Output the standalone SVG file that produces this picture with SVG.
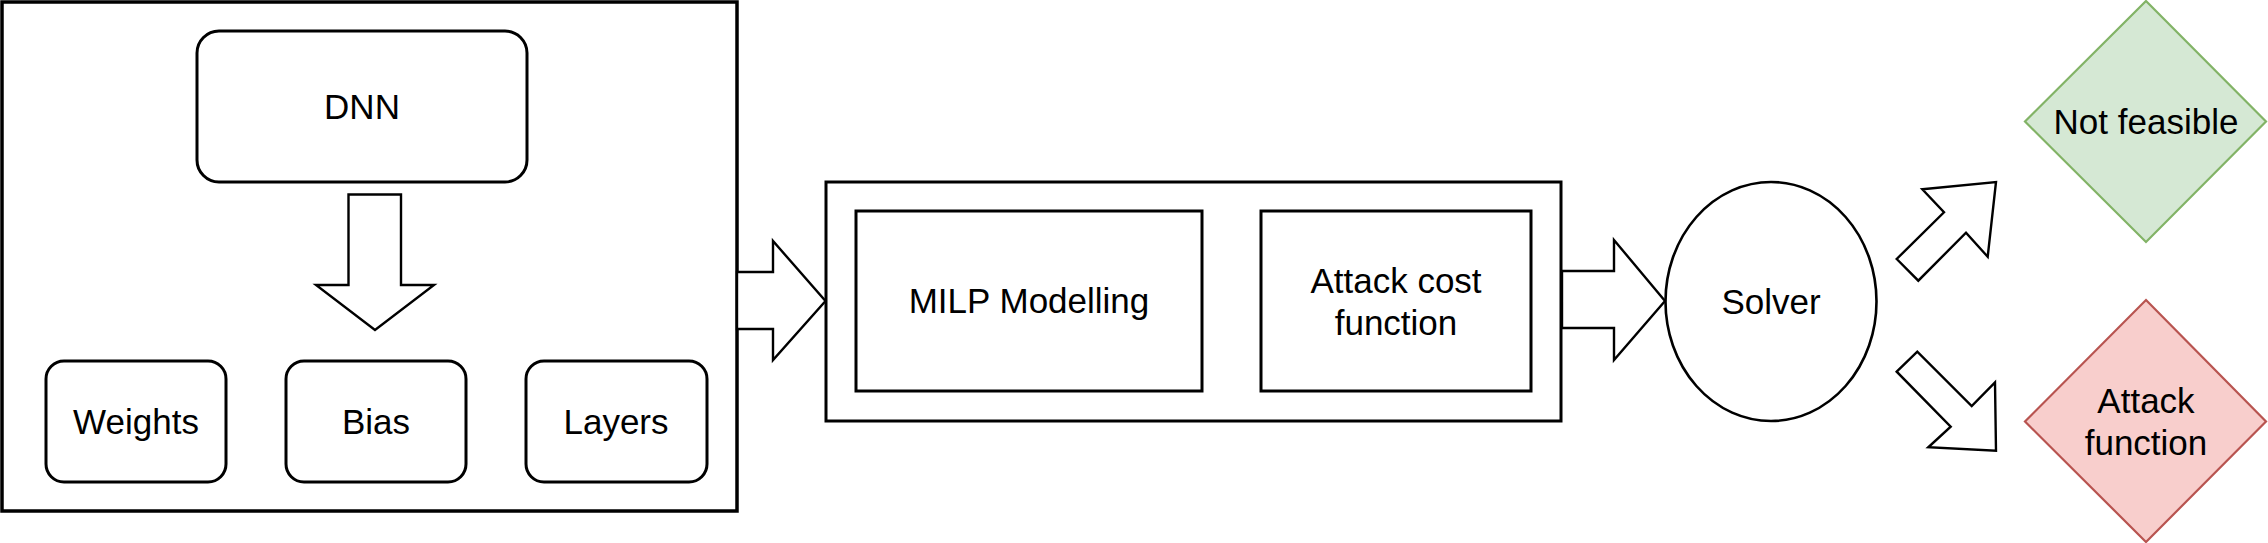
<svg xmlns="http://www.w3.org/2000/svg" width="2268" height="543" viewBox="0 0 2268 543">
<style>
text{font-family:"Liberation Sans",Arial,Helvetica,sans-serif;font-size:35px;fill:#000;text-anchor:middle}
.box{fill:#fff;stroke:#000;stroke-width:3}
.arr{fill:#fff;stroke:#000;stroke-width:2.4;stroke-linejoin:miter}
</style>
<rect width="2268" height="543" fill="#fff"/>
<g id="container-left"><rect class="box" x="2" y="2" width="735" height="509" style="stroke-width:3.5"/></g>
<g id="dnn"><rect class="box" x="197" y="31" width="330" height="151" rx="22" ry="22"/><text x="362" y="119">DNN</text></g>
<g id="weights"><rect class="box" x="46" y="361" width="180" height="121" rx="18" ry="18"/><text x="136" y="434">Weights</text></g>
<g id="bias"><rect class="box" x="286" y="361" width="180" height="121" rx="18" ry="18"/><text x="376" y="434">Bias</text></g>
<g id="layers"><rect class="box" x="526" y="361" width="181" height="121" rx="18" ry="18"/><text x="616" y="434">Layers</text></g>
<g id="container-milp"><rect class="box" x="826" y="182" width="735" height="239"/></g>
<g id="milp"><rect class="box" x="856" y="211" width="346" height="180"/><text x="1029" y="313">MILP Modelling</text></g>
<g id="attack-cost"><rect class="box" x="1261" y="211" width="270" height="180"/><text x="1396" y="293">Attack cost</text><text x="1396" y="335">function</text></g>
<g id="solver"><ellipse cx="1771" cy="301.5" rx="105.5" ry="119.5" fill="#fff" stroke="#000" stroke-width="2.6"/><text x="1771" y="314">Solver</text></g>
<g id="not-feasible"><polygon points="2146,1 2266,121.5 2146,242 2025,121.5" fill="#d5e8d4" stroke="#82b366" stroke-width="2.2"/><text x="2146" y="134">Not feasible</text></g>
<g id="attack-function"><polygon points="2146,300 2266,421.5 2146,542 2025,421.5" fill="#f8cecc" stroke="#b85450" stroke-width="2.2"/><text x="2146" y="413">Attack</text><text x="2146" y="455">function</text></g>
<g id="connectors">
<polygon class="arr" points="348.5,194.5 401,194.5 401,285 434,285 375,330 316,285 348.5,285"/>
<polygon class="arr" points="737,272 773,272 773,241 825.5,301 773,360 773,329 737,329"/>
<polygon class="arr" points="1562,271 1614,271 1614,240 1665,301 1614,360 1614,328 1562,328"/>
<polygon class="arr" points="1896.7,259 1918.3,280.7 1966,232.7 1987.7,256.7 1996,182 1922.3,189.3 1944,212.3"/>
<polygon class="arr" points="1896.7,371.7 1917.3,351.7 1971.7,406 1995,382.3 1996,450.7 1928.3,447.3 1950.7,426.7"/>
</g>
</svg>
